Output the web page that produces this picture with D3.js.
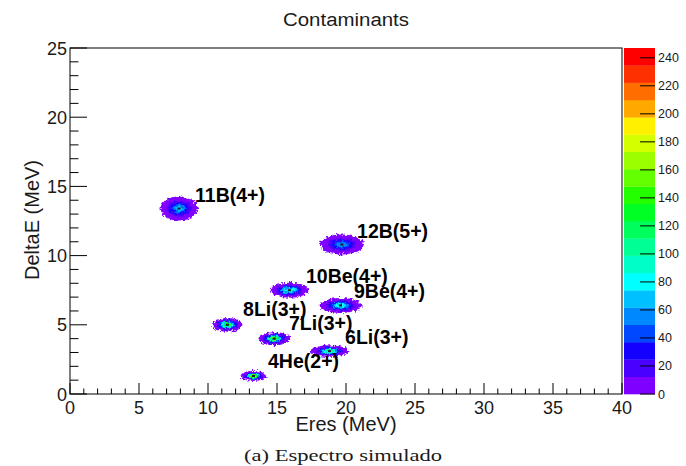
<!DOCTYPE html>
<html>
<head>
<meta charset="utf-8">
<script src="https://cdn.jsdelivr.net/npm/d3@7/dist/d3.min.js"></script>
<style>
  html, body { margin: 0; padding: 0; background: #fff; }
  svg { display: block; }
  text { font-family: "Liberation Sans", Arial, sans-serif; fill: #1a1a1a; }
</style>
</head>
<body>
<svg id="chart" width="686" height="466"></svg>
<script>
// Ion groups in the Eres / DeltaE spectrum
const ions      = ["11B(4+)", "12B(5+)", "10Be(4+)", "9Be(4+)", "8Li(3+)", "7Li(3+)", "6Li(3+)", "4He(2+)"];
const eres      = [7.9, 19.7, 15.9, 19.6, 11.4, 14.8, 18.8, 13.3];   // MeV, group centre
const deltaE    = [13.4, 10.8, 7.5, 6.4, 5.0, 4.0, 3.1, 1.3];       // MeV, group centre
const spreadE   = [1.34, 1.60, 1.38, 1.52, 1.09, 1.16, 1.38, 0.94]; // MeV, half extent along Eres
const spreadDE  = [0.87, 0.72, 0.54, 0.54, 0.50, 0.47, 0.43, 0.36]; // MeV, half extent along DeltaE
const peakCount = [70, 62, 112, 92, 150, 162, 122, 186];            // counts in the peak bin
const labelE    = [9.06, 20.8, 17.1, 20.58, 12.54, 15.87, 19.93, 14.35];
const labelDE   = [13.87, 11.3, 8.0, 6.93, 5.64, 4.6, 3.63, 1.88];

// Axis ticks
const xTicks = [0, 5, 10, 15, 20, 25, 30, 35, 40];
const yTicks = [0, 5, 10, 15, 20, 25];
const zTicks = [0, 20, 40, 60, 80, 100, 120, 140, 160, 180, 200, 220, 240];
const zMax = 247;

// 20-level rainbow palette, lowest level first
const palette = ["#8000ff", "#4a00ff", "#1400ff", "#0048ff", "#0088ff", "#00c0ff",
                 "#00ffff", "#00ffc8", "#00ff94", "#00ff5c", "#00ff24", "#24ff00",
                 "#64ff00", "#9cff00", "#d4ff00", "#fff000", "#ffa800", "#ff6c00",
                 "#ff3000", "#ff0000"];

const svg = d3.select("#chart");
const frame = { left: 70, right: 622, top: 48, bottom: 394 };

const x = d3.scaleLinear().domain([0, 40]).range([frame.left, frame.right]);
const y = d3.scaleLinear().domain([0, 25]).range([frame.bottom, frame.top]);
const z = d3.scaleLinear().domain([0, zMax]).range([frame.bottom, frame.top]);
const step = zMax / palette.length;

// rough-edge filter for the histogram blobs
const defs = svg.append("defs");
const flt = defs.append("filter").attr("id", "rough")
  .attr("x", "-40%").attr("y", "-60%").attr("width", "180%").attr("height", "220%");
flt.append("feTurbulence").attr("type", "fractalNoise").attr("baseFrequency", 0.42)
  .attr("numOctaves", 2).attr("seed", 7).attr("result", "noise");
flt.append("feDisplacementMap").attr("in", "SourceGraphic").attr("in2", "noise")
  .attr("scale", 6).attr("xChannelSelector", "R").attr("yChannelSelector", "G");

// Title
svg.append("text").attr("x", 346).attr("y", 26).attr("text-anchor", "middle")
  .style("font-size", "18px").attr("textLength", 126).attr("lengthAdjust", "spacingAndGlyphs")
  .text("Contaminants");

// Blobs: nested contour bands of each group
const blobs = svg.append("g").attr("filter", "url(#rough)");
ions.forEach((name, i) => {
  const cx = x(eres[i]), cy = y(deltaE[i]);
  const rx = x(spreadE[i]) - x(0), ry = y(0) - y(spreadDE[i]);
  const peak = peakCount[i];
  const levels = d3.range(0, palette.length).filter(k => k * step < peak);
  const g = blobs.append("g");
  g.selectAll("ellipse").data(levels).join("ellipse")
    .attr("cx", cx).attr("cy", cy)
    .attr("rx", k => k === 0 ? rx : rx * Math.sqrt(Math.log(peak / (k * step)) / Math.log(peak)))
    .attr("ry", k => k === 0 ? ry : ry * Math.sqrt(Math.log(peak / (k * step)) / Math.log(peak)))
    .attr("fill", k => palette[k]);
});
// peak bins
svg.append("g").selectAll("rect").data(ions).join("rect")
  .attr("x", (d, i) => x(eres[i]) - 1.5).attr("y", (d, i) => y(deltaE[i]) - 1)
  .attr("width", 3).attr("height", 2).attr("fill", "#10202a");

// Frame
svg.append("rect").attr("x", frame.left).attr("y", frame.top)
  .attr("width", frame.right - frame.left).attr("height", frame.bottom - frame.top)
  .attr("fill", "none").attr("stroke", "#000").attr("stroke-width", 1);

// X axis: major and minor ticks pointing inward
const xMinor = d3.range(0, 41, 1);
svg.append("g").selectAll("line").data(xMinor).join("line")
  .attr("x1", d => x(d)).attr("x2", d => x(d))
  .attr("y1", frame.bottom).attr("y2", d => frame.bottom - (d % 5 === 0 ? 11 : 5.5))
  .attr("stroke", "#000");
svg.append("g").selectAll("text").data(xTicks).join("text")
  .attr("x", d => x(d)).attr("y", 414).attr("text-anchor", "middle")
  .style("font-size", "18px").text(d => d);

// Y axis
const yMinor = d3.range(0, 25.01, 1);
svg.append("g").selectAll("line").data(yMinor).join("line")
  .attr("x1", frame.left).attr("x2", d => frame.left + (d % 5 === 0 ? 17 : 8.5))
  .attr("y1", d => y(d)).attr("y2", d => y(d))
  .attr("stroke", "#000");
svg.append("g").selectAll("text").data(yTicks).join("text")
  .attr("x", 67).attr("y", d => y(d) + 6.5).attr("text-anchor", "end")
  .style("font-size", "18px").text(d => d);

// Axis titles
svg.append("text").attr("x", 346).attr("y", 431).attr("text-anchor", "middle")
  .style("font-size", "20px").text("Eres (MeV)");
svg.append("text").attr("transform", "translate(39,220) rotate(-90)").attr("text-anchor", "middle")
  .style("font-size", "20px").text("DeltaE (MeV)");

// Group labels
svg.append("g").selectAll("text").data(ions).join("text")
  .attr("x", (d, i) => x(labelE[i])).attr("y", (d, i) => y(labelDE[i]))
  .style("font-size", "19.5px").style("font-weight", "bold").style("fill", "#000")
  .text(d => d);

// Colour bar
const barX = 624, barW = 31;
svg.append("g").selectAll("rect").data(palette).join("rect")
  .attr("x", barX).attr("width", barW)
  .attr("y", (c, k) => z((k + 1) * step)).attr("height", z(0) - z(step) + 0.3)
  .attr("fill", c => c);
svg.append("g").selectAll("line").data(zTicks).join("line")
  .attr("x1", barX + barW - 15).attr("x2", barX + barW)
  .attr("y1", d => z(d)).attr("y2", d => z(d)).attr("stroke", "#000");
svg.append("g").selectAll("text").data(zTicks).join("text")
  .attr("x", barX + barW + 3).attr("y", d => z(d) + 4.5)
  .style("font-size", "12.5px").text(d => d);

// Caption
svg.append("text").attr("x", 343).attr("y", 461).attr("text-anchor", "middle")
  .style("font-family", "'Liberation Serif', 'DejaVu Serif', serif").style("font-size", "17px")
  .attr("textLength", 198).attr("lengthAdjust", "spacingAndGlyphs")
  .text("(a) Espectro simulado");
</script>
</body>
</html>
